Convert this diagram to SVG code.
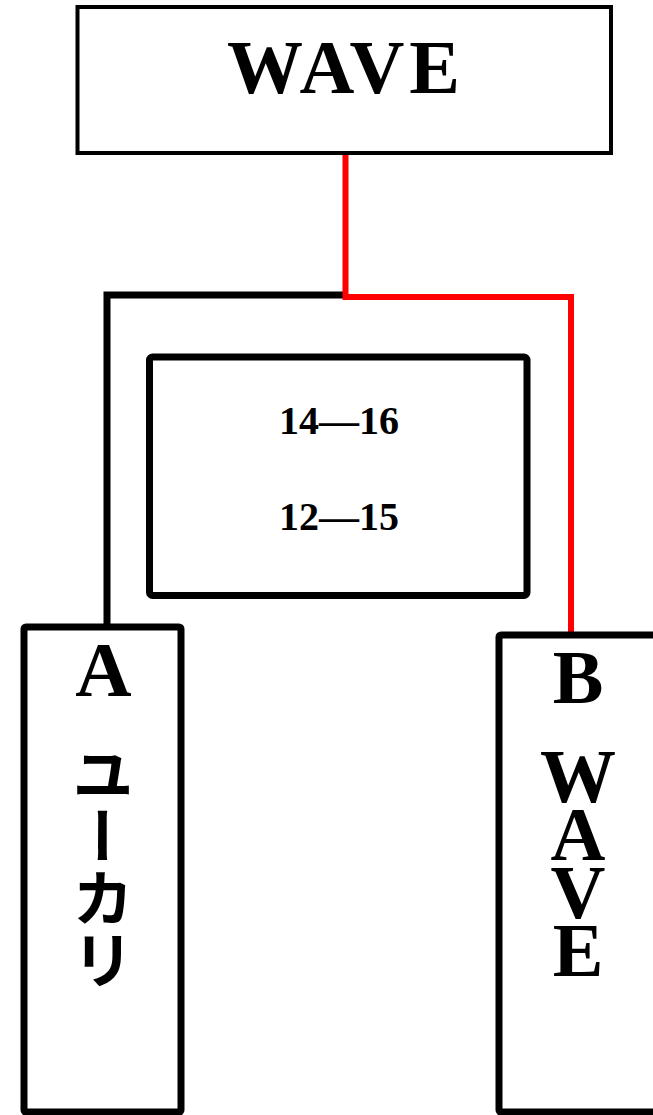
<svg xmlns="http://www.w3.org/2000/svg" width="653" height="1115" viewBox="0 0 653 1115">
<style>
.box{fill:#fff;stroke:#000;stroke-linejoin:miter}
.serif{font-family:"Liberation Serif","DejaVu Serif",serif;font-weight:bold;fill:#000;text-anchor:middle}
.jp{font-family:"Noto Sans CJK JP","Noto Sans CJK SC",sans-serif;font-weight:bold;fill:#000}
.wire{fill:none;stroke-linejoin:miter;stroke-linecap:butt}
.vert{font-family:"Liberation Serif","DejaVu Serif",serif;font-weight:bold;fill:#000;writing-mode:vertical-rl;text-orientation:upright}
</style>
<rect width="653" height="1115" fill="#fff"/>
<g id="connectors">
<polyline class="wire" points="107,627 107,295 345,295" stroke="#000" stroke-width="7"/>
<polyline class="wire" points="345.5,154 345.5,297 571,297 571,635" stroke="#ff0000" stroke-width="6"/>
</g>
<g id="node-top">
<rect class="box" x="77.5" y="7" width="533.5" height="146" stroke-width="4"/>
<text class="serif" x="343.5" y="93" font-size="76" textLength="233" lengthAdjust="spacing">WAVE</text>
</g>
<g id="node-middle">
<rect class="box" x="149.5" y="357" width="377.5" height="238.5" rx="3" stroke-width="7"/>
<text class="serif" x="339" y="434" font-size="40">14—16</text>
<text class="serif" x="339" y="530" font-size="40">12—15</text>
</g>
<g id="node-a">
<rect class="box" x="24" y="627" width="157" height="485" rx="2" stroke-width="7"/>
<text class="serif" x="103.5" y="696" font-size="78">A</text>
<text class="jp" x="103" y="743" font-size="62" writing-mode="vertical-rl">ユーカリ</text>
</g>
<g id="node-b">
<rect class="box" x="499" y="635" width="200" height="477" rx="2" stroke-width="7"/>
<text class="serif" x="578" y="703" font-size="76">B</text>
<text class="vert" x="578" y="734" font-size="76" letter-spacing="-26">WAVE</text>
</g>
</svg>
